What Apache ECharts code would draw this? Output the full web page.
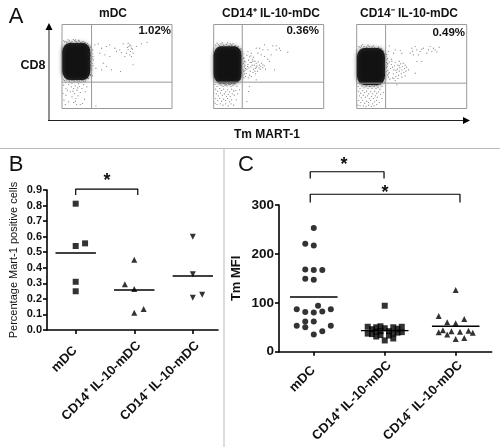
<!DOCTYPE html>
<html><head><meta charset="utf-8">
<style>html,body{margin:0;padding:0;background:#fff}#c{width:500px;height:447px}</style>
<script src="https://cdn.jsdelivr.net/npm/echarts@6/dist/echarts.min.js"></script>
</head><body><div id="c"></div>
<script>
const categories = ['mDC  ', 'CD14⁺ IL-10-mDC', 'CD14⁻ IL-10-mDC'];
const flowTitles = ['mDC', 'CD14⁺ IL-10-mDC', 'CD14⁻ IL-10-mDC'];
const flowPercents = ['1.02%', '0.36%', '0.49%'];
const flowGateX = [89, 86, 87];
const flowGateY = [79, 79, 76];
const flowCore = [[43, 141], [42, 131], [43, 126]];

const flowDots1 = [[99,191],[109,194],[119,181],[134,186],[144,191],[159,181],[174,176],[184,194],[199,196],[204,191],[209,181],[199,176],[206,171],[194,166],[189,156],[214,166],[224,186],[239,194],[256,198],[114,166],[129,161],[144,156],[124,136],[134,126],[149,116],[119,116],[176,111],[214,131],[94,146],[102,121],[164,171],[179,168],[204,161],[212,178],[201,186],[197,183],[207,188],[209,156],[102,8],
[5,70],[12,60],[20,72],[30,75],[40,68],[50,74],[60,60],[65,72],[35,60],[45,55],[25,50],[38,45],[55,48],[12,40],[30,35],[42,30],[48,38],[6,25],[20,20],[35,18],[55,12],[62,15],[70,50],[75,65],[10,12],[28,65],[47,62],[52,66],[16,55],[33,52],[40,22],[44,12],[3,45],[68,28],
[8,200],[15,198],[22,203],[30,200],[38,204],[45,199],[52,202],[60,199],[68,196],[74,192],[78,186],[84,178],[88,170],[86,160],[90,150],[85,142],[91,135],[87,125],[84,115],[88,108],[80,100],[76,92],[68,88],[60,84],[52,82],[45,85],[38,80],[30,84],[22,82],[14,86],[8,84],[82,184],[86,130],[84,150],[88,190],[12,201],[26,198],[42,201],[56,197],[64,193],[72,187],[80,176],[83,166],[85,120],[82,106],[72,96],[56,88],[34,88],[18,88],
[5,203],[18,206],[34,207],[50,205],[64,201],[76,195],[86,184],[92,176],[90,165],[93,156],[89,144],[93,128],[90,118],[92,98],[86,102],[80,90],[70,82],[58,78],[46,79],[26,78],[10,79],[4,86],[41,206],[70,198],[80,190],[88,138],[88,155],[85,100],[64,82],[36,83]];
const flowDots2 = [[128,181],[138,181],[153,191],[148,176],[163,176],[178,188],[188,188],[198,181],[201,174],[188,176],[223,169],[173,161],[153,156],[163,148],[143,161],[133,166],[168,141],[183,116],[148,131],[128,86],[108,66],[105,51],[100,21],[78,56],[103,171],[113,166],
[88,110],[92,125],[95,140],[90,150],[98,105],[100,118],[103,132],[105,145],[108,155],[108,100],[110,112],[112,125],[114,138],[116,148],[118,108],[120,118],[122,130],[124,142],[126,120],[128,135],[130,128],[132,112],[134,140],[136,122],[138,130],[140,118],[142,126],[144,136],[96,96],[104,92],[114,96],[126,104],[148,122],[152,128],[156,118],[100,160],[112,158],[120,154],[106,122],[116,130],[110,138],[118,142],[124,112],[94,115],[102,126],[128,124],
[4,72],[10,66],[16,74],[22,70],[28,66],[34,74],[40,68],[46,72],[52,66],[58,70],[64,74],[70,66],[6,58],[12,52],[18,60],[24,54],[30,58],[36,50],[42,56],[48,50],[54,58],[60,52],[8,44],[14,38],[20,46],[26,40],[32,44],[38,36],[44,42],[50,36],[56,44],[62,40],[66,54],[6,30],[12,24],[18,30],[24,22],[30,28],[36,24],[42,30],[48,20],[54,26],[4,16],[10,12],[20,14],[28,10],[36,14],[44,8],[52,14],[60,10],[72,44],[68,26],
[6,190],[14,192],[22,194],[30,190],[38,192],[46,189],[54,190],[62,186],[70,182],[76,176],[80,168],[84,158],[86,148],[90,136],[84,126],[88,118],[82,108],[86,96],[76,90],[70,84],[62,80],[54,76],[46,74],[38,72],[30,76],[92,104],[80,176],[18,188],[50,194],[66,188],
[10,196],[26,197],[42,197],[58,194],[74,186],[84,172],[88,164],[91,152],[92,142],[87,132],[91,112],[88,100],[80,88],[72,78],[60,76],[50,72],[34,70],[20,76],[10,78],[82,180],[86,170],[94,130],[96,120],[90,92]];
const flowDots3 = [[98,188],[111,166],[96,171],[116,176],[131,174],[136,166],[166,181],[176,186],[161,166],[171,161],[181,176],[191,171],[186,161],[201,181],[211,166],[221,186],[231,181],[248,184],[226,171],[236,176],[181,141],[196,141],[176,106],[156,116],[121,71],[168,172],[196,178],[216,176],[241,170],
[84,100],[88,112],[92,126],[90,138],[96,94],[98,108],[102,120],[104,132],[106,142],[108,92],[110,104],[112,116],[114,128],[116,138],[118,96],[120,108],[122,118],[124,130],[126,100],[128,112],[130,122],[132,134],[134,104],[136,116],[138,126],[140,136],[142,108],[144,120],[146,130],[148,112],[150,124],[100,88],[112,90],[124,90],[136,94],[146,98],[94,134],[108,124],[118,114],[128,128],[116,84],[104,148],[128,142],
[4,66],[10,60],[16,68],[22,62],[28,66],[34,60],[40,66],[46,60],[52,66],[58,60],[64,64],[70,58],[76,66],[6,52],[12,46],[18,54],[24,48],[30,52],[36,44],[42,50],[48,44],[54,52],[60,46],[66,50],[8,38],[14,32],[20,40],[26,34],[32,38],[38,30],[44,36],[50,30],[56,38],[62,34],[72,42],[6,24],[12,18],[18,24],[24,16],[30,22],[36,18],[42,24],[48,14],[54,20],[60,24],[4,10],[10,8],[20,8],[28,6],[36,10],[44,6],[52,8],[60,12],[68,18],[76,30],[80,48],
[6,186],[14,188],[22,186],[30,184],[38,186],[46,184],[54,182],[62,180],[70,176],[76,170],[80,162],[84,152],[86,142],[88,130],[84,120],[88,110],[82,100],[86,90],[78,84],[70,78],[62,74],[54,70],[46,68],[38,66],[30,70],[92,150],[90,162],[98,140],[10,184],[58,180],
[18,192],[34,190],[50,188],[66,184],[80,172],[88,156],[91,146],[92,134],[90,122],[92,100],[84,78],[72,72],[60,70],[40,72],[24,72],[10,74],[86,164],[94,114],[96,104],[74,180]];

const bMdc = [[0,0.812],[0.16,0.557],[0,0.54],[0,0.31],[0,0.249]];
const bPlus = [[1,0.452],[0.84,0.294],[1,0.264],[1.16,0.135],[1,0.111]];
const bMinus = [[2,0.6],[2,0.358],[2,0.208],[2.16,0.227]];
const bMeans = [0.495, 0.257, 0.347];
const cMdc = [[0,253],[-0.12,221],[0,217],[-0.12,168],[0,167],[0.12,167],[-0.12,149],[0,147],[0.06,94],[-0.24,87],[0.24,87],[-0.12,81],[0,80],[0.12,82],[-0.12,62],[0,62],[-0.24,53],[0.24,53],[-0.12,50],[0.12,42],[0,35]];
const cPlus = [[1,94],[0.76,51],[0.88,50],[0.94,52],[1.12,50],[1.24,51],[0.82,46],[1,48],[1.18,47],[0.76,37],[0.88,41],[0.94,42],[1.06,42],[1.24,40],[0.82,36],[1.12,37],[1.18,39],[0.88,31],[1.12,27],[1,23],[0.94,34],[1.06,33]];
const cMinus = [[2,126],[1.76,73],[2.12,67],[1.88,60],[2,58],[1.82,44],[1.76,40],[1.94,42],[1.88,35],[2.06,41],[2.18,43],[2.24,39],[2,26],[2.12,28]];
const cMeans = [112, 43, 52];
const bBracket = [[0,0.868],[0,0.906],[1.06,0.906],[1.06,0.868]];
const cBracket1 = [[-0.05,354],[-0.05,368],[0.99,368],[0.99,354]];
const cBracket2 = [[-0.05,305],[-0.05,322],[2.06,322],[2.06,305]];

const FONT = '"Liberation Sans", Arial, sans-serif';
const flowDots = [flowDots1, flowDots2, flowDots3];
const flowLeft = [62, 213.7, 356.7];

const grid = [], xAxis = [], yAxis = [], series = [];
flowLeft.forEach((left, i) => {
  grid.push({left, top: 24.5, width: 110, height: 84, show: true, borderColor: '#999', borderWidth: 1, backgroundColor: '#fff'});
  xAxis.push({gridIndex: i, type: 'value', min: 0, max: 331, show: false});
  yAxis.push({gridIndex: i, type: 'value', min: 0, max: 252, show: false});
  series.push({type: 'scatter', xAxisIndex: i, yAxisIndex: i, data: flowDots[i], symbol: 'circle', symbolSize: 1.2, itemStyle: {color: '#555', opacity: 0.75}, silent: true, z: 2});
  series.push({type: 'scatter', xAxisIndex: i, yAxisIndex: i, data: [flowCore[i]], symbol: 'roundRect', symbolSize: [28, 37], itemStyle: {color: '#000', shadowBlur: 4, shadowColor: 'rgba(0,0,0,0.8)'}, silent: true, z: 3});
  series.push({type: 'line', xAxisIndex: i, yAxisIndex: i, data: [[flowGateX[i], 0], [flowGateX[i], 252]], symbol: 'none', lineStyle: {color: '#999', width: 1}, silent: true, z: 4});
  series.push({type: 'line', xAxisIndex: i, yAxisIndex: i, data: [[0, flowGateY[i]], [331, flowGateY[i]]], symbol: 'none', lineStyle: {color: '#999', width: 1}, silent: true, z: 4});
});

function addPanel(idx, box, xMin, xMax, yMax, yInterval, name, tickSize, nameSize, nameGap, fmt, labelSize, labelMargin) {
  grid.push(box);
  xAxis.push({gridIndex: idx, type: 'value', min: xMin, max: xMax, splitLine: {show: false},
    axisLine: {onZero: false, lineStyle: {color: '#000', width: 1.6}},
    axisTick: {customValues: [0, 1, 2], length: 4, lineStyle: {color: '#000', width: 1.6}},
    axisLabel: {customValues: [0, 1, 2], rotate: 45, margin: labelMargin, verticalAlign: 'top', color: '#111', fontFamily: FONT, fontWeight: 'bold', fontSize: labelSize, formatter: v => categories[v]}});
  yAxis.push({gridIndex: idx, type: 'value', min: 0, max: yMax, interval: yInterval, splitLine: {show: false},
    name, nameLocation: 'middle', nameGap, nameTextStyle: {color: '#111', fontFamily: FONT, fontSize: nameSize, fontWeight: idx === 3 ? 'normal' : 'bold'},
    axisLine: {show: true, onZero: false, lineStyle: {color: '#000', width: 1.6}},
    axisTick: {show: true, length: 4, lineStyle: {color: '#000', width: 1.6}},
    axisLabel: {margin: 5, color: '#111', fontFamily: FONT, fontWeight: 'bold', fontSize: tickSize, formatter: fmt}});
}
addPanel(3, {left: 47, top: 190, width: 171, height: 140}, -0.49, 2.43, 0.9, 0.1, 'Percentage Mart-1 positive cells', 11, 11, 28, v => v.toFixed(1), 13, 9);
addPanel(4, {left: 279, top: 205, width: 212.7, height: 146.7}, -0.49, 2.507, 300, 100, 'Tm MFI', 13.5, 13, 36, v => String(v), 13, 7);

function marks(idx, data, symbol, rotate) {
  series.push({type: 'scatter', xAxisIndex: idx, yAxisIndex: idx, data, symbol, symbolRotate: rotate, symbolSize: 6, itemStyle: {color: '#000'}, clip: false, z: 5, silent: true});
}
function meanLine(idx, i, mean, half) {
  series.push({type: 'line', xAxisIndex: idx, yAxisIndex: idx, data: [[i - half, mean], [i + half, mean]], symbol: 'none', lineStyle: {color: '#000', width: 1.4}, z: 6, silent: true});
}
function bracket(idx, data) {
  series.push({type: 'line', xAxisIndex: idx, yAxisIndex: idx, data, symbol: 'none', clip: false, lineStyle: {color: '#000', width: 1.2}, z: 6, silent: true});
}
marks(3, bMdc, 'rect', 0); marks(3, bPlus, 'triangle', 0); marks(3, bMinus, 'triangle', 180);
bMeans.forEach((m, i) => meanLine(3, i, m, 0.345));
bracket(3, bBracket);
marks(4, cMdc, 'circle', 0); marks(4, cPlus, 'rect', 0); marks(4, cMinus, 'triangle', 0);
cMeans.forEach((m, i) => meanLine(4, i, m, 0.335));
bracket(4, cBracket1); bracket(4, cBracket2);

const txt = (x, y, text, fontSize, fontWeight, textAlign) => ({type: 'text', x, y, z: 20, silent: true,
  style: {text, fontFamily: FONT, fontSize, fontWeight: fontWeight || 'normal', fill: '#111', textAlign: textAlign || 'center', textVerticalAlign: 'middle'}});
const rule = (x1, y1, x2, y2, stroke, lineWidth) => ({type: 'line', silent: true, z: 1, shape: {x1, y1, x2, y2}, style: {stroke, lineWidth}});
const poly = points => ({type: 'polygon', silent: true, z: 1, shape: {points}, style: {fill: '#000'}});
const graphic = [
  rule(0, 148.5, 500, 148.5, '#bbb', 1), rule(224, 148, 224, 447, '#bbb', 1),
  rule(49, 120.5, 49, 28, '#222', 1), rule(48, 120.5, 465, 120.5, '#222', 1),
  poly([[49, 23], [45.5, 30], [52.5, 30]]), poly([[470, 120.5], [463, 117], [463, 124]]),
  txt(16, 17, 'A', 22), txt(16, 165, 'B', 22), txt(246, 165, 'C', 22),
  txt(33, 66, 'CD8', 12.5, 'bold'), txt(267, 135, 'Tm MART-1', 12, 'bold'),
  txt(113, 14, flowTitles[0], 12, 'bold'), txt(271, 14, flowTitles[1], 12, 'bold'), txt(409, 14, flowTitles[2], 12, 'bold'),
  txt(171, 31, flowPercents[0], 11.5, 'bold', 'right'), txt(319, 31, flowPercents[1], 11.5, 'bold', 'right'), txt(465, 33, flowPercents[2], 11.5, 'bold', 'right'),
  txt(107, 181, '*', 18, 'bold'), txt(344, 165, '*', 18, 'bold'), txt(385, 193, '*', 18, 'bold')
];

const chart = echarts.init(document.getElementById('c'), null, {renderer: 'canvas'});
chart.setOption({animation: false, backgroundColor: '#fff', tooltip: {show: false}, grid, xAxis, yAxis, series, graphic});
</script></body></html>
